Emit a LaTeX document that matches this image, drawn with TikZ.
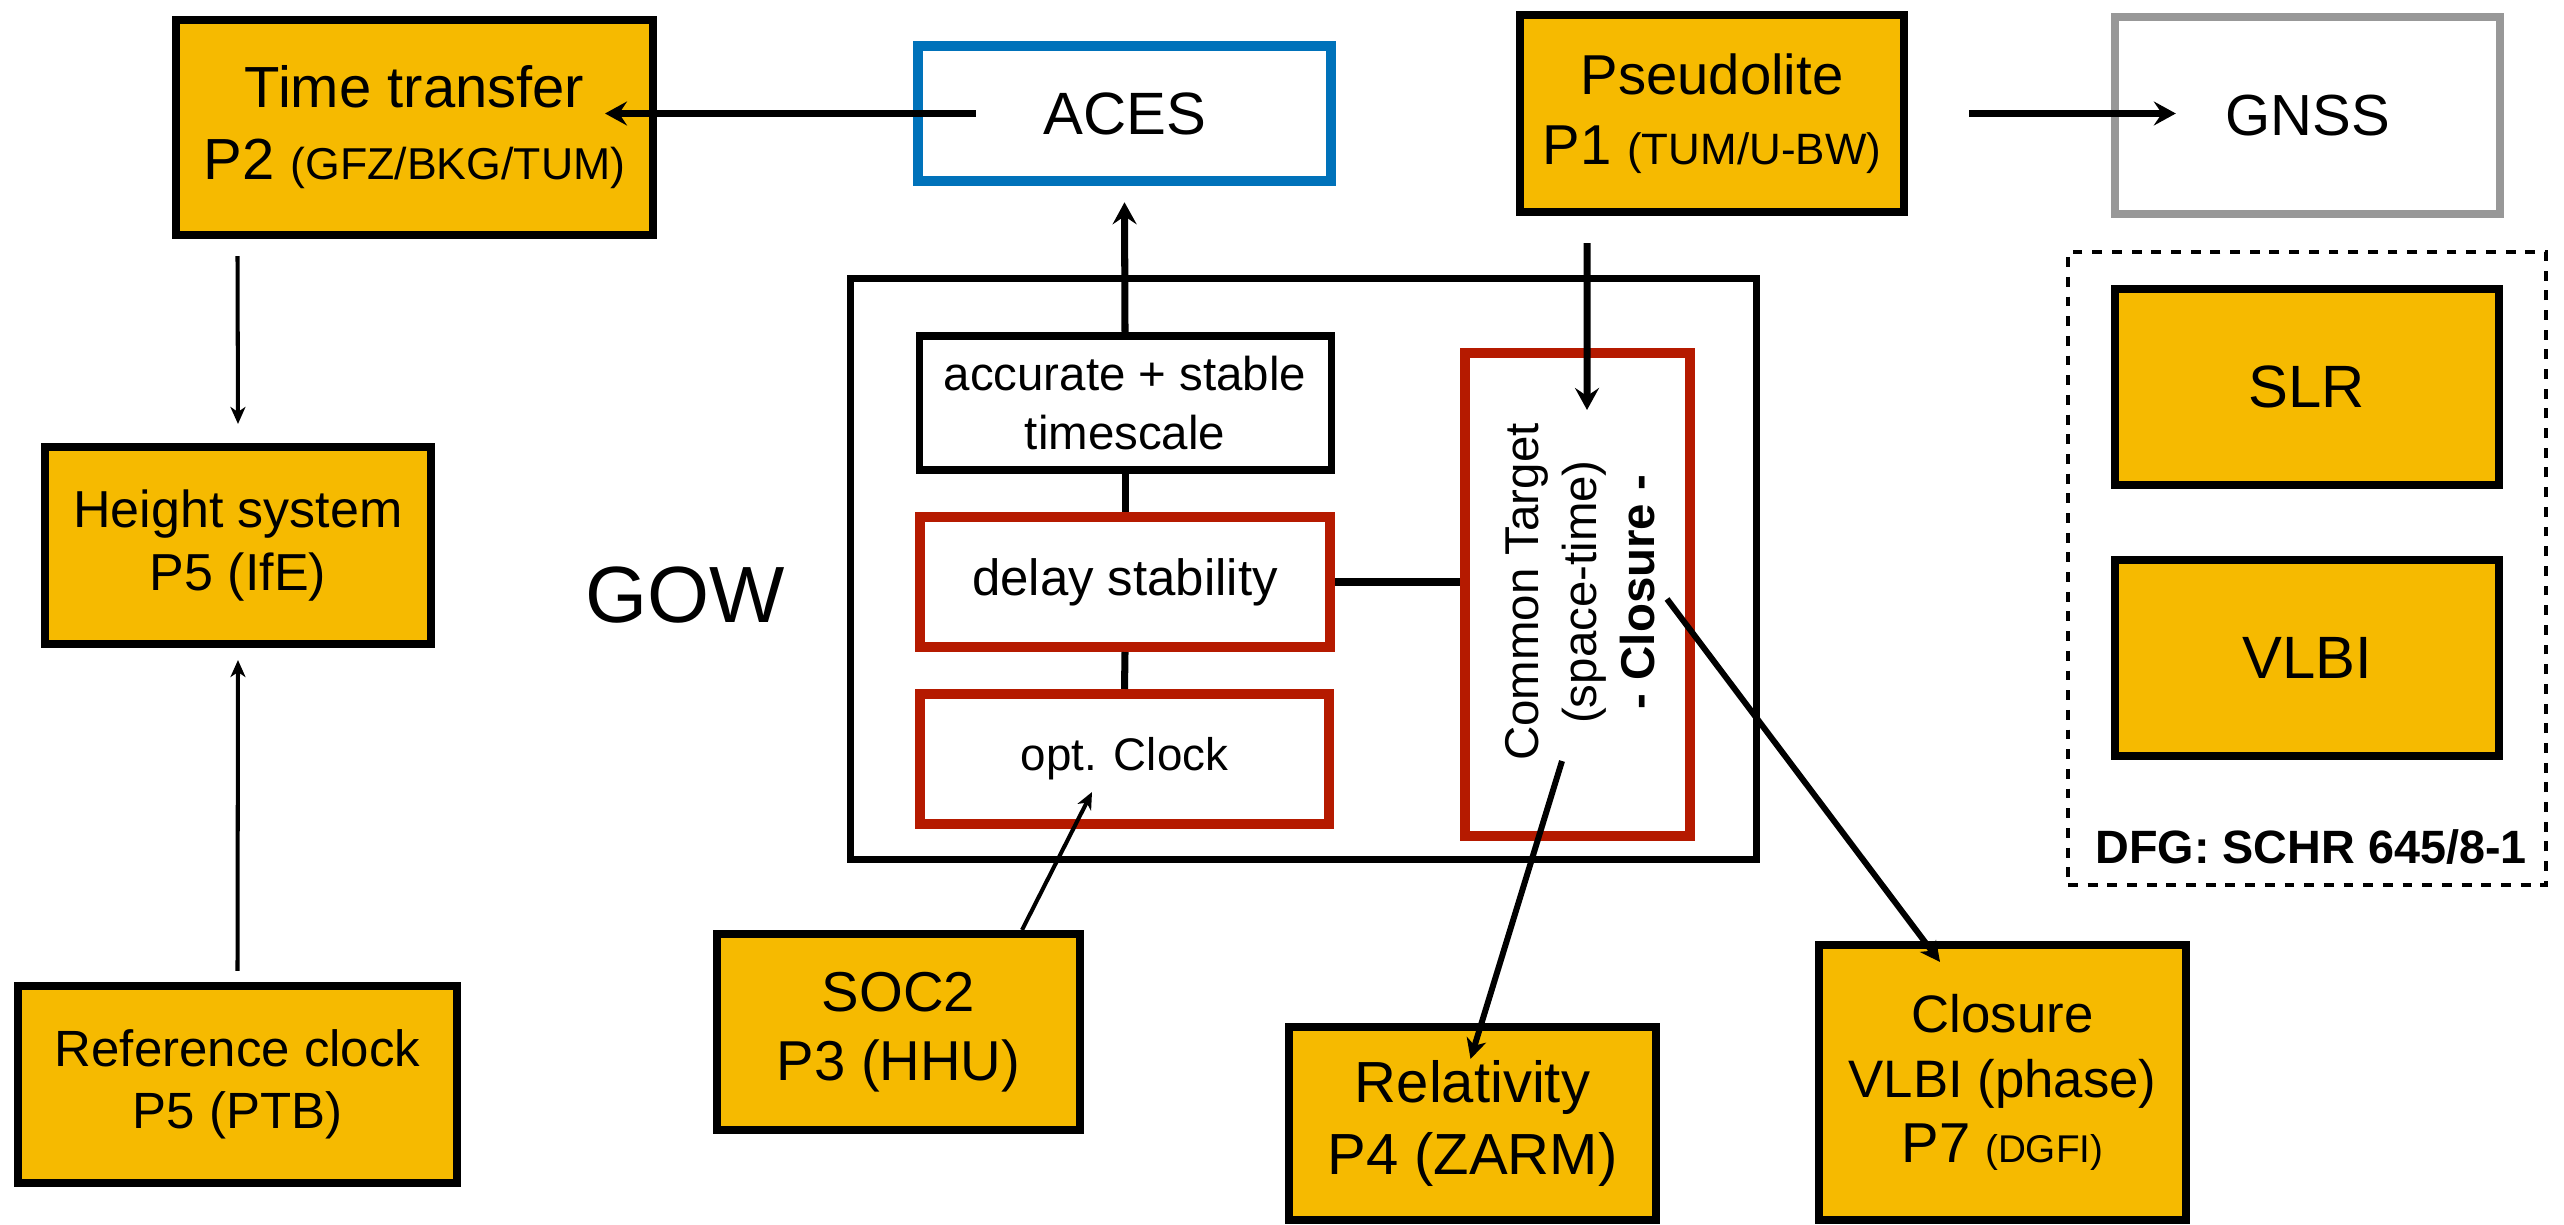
\documentclass[tikz,border=0pt]{standalone}
\usepackage{fontspec}
\setmainfont{Liberation Sans}
\usepackage{tikz}
\usetikzlibrary{arrows.meta,calc}
\definecolor{projyellow}{HTML}{F6BA00}
\definecolor{gowred}{HTML}{B51A00}
\definecolor{acesblue}{HTML}{0072BA}
\definecolor{gnssgray}{HTML}{989898}
\tikzset{project/.style={rectangle,draw=black,fill=projyellow,line width=2.3pt,
 inner sep=2pt,align=center,text=black},
 extbox/.style={rectangle,fill=white,line width=3pt,inner sep=2pt,align=center,
 text=black,font=\fontsize{17}{20}\selectfont},
 gowbox/.style={rectangle,draw=black,line width=2pt},
 timebox/.style={rectangle,draw=black,line width=2pt,align=center,inner sep=2pt,
 font=\fontsize{13.5}{17}\selectfont},
 redbox/.style={rectangle,draw=gowred,line width=2.85pt,align=center,inner sep=2pt},
 dfgframe/.style={rectangle,draw=black,line width=1.3pt,dash pattern=on 2.8pt off 2.8pt},
 link/.style={draw=black,line width=2pt},
 arrowlink/.style={link,-{Stealth[length=2.2mm,width=2.4mm,inset=0.8mm]}},
 slantlink/.style={draw=black,line width=1.7pt,-{Stealth[length=2mm,width=2mm,inset=0.6mm]}},
 thinlink/.style={draw=black,line width=1.15pt,-{Stealth[length=1.7mm,width=1.5mm,inset=0.5mm]}}}

\begin{document}
\begin{tikzpicture}[x=1cm,y=1cm]
 \useasboundingbox (0,0) rectangle (25.64,-12.24);
 % left column
 \node[project,minimum width=4.77cm,minimum height=2.15cm,font=\fontsize{16.5}{20.5}\selectfont]
  (tt) at (4.145,-1.275) {Time transfer\\P2 {\fontsize{12.7}{15}\selectfont(GFZ/BKG/TUM)}};
 \node[project,minimum width=3.86cm,minimum height=1.97cm,font=\fontsize{14.8}{17.8}\selectfont]
  (height) at (2.38,-5.455) {Height system\\P5 (IfE)};
 \node[project,minimum width=4.39cm,minimum height=1.97cm,font=\fontsize{14.5}{17.5}\selectfont]
  (refclk) at (2.375,-10.845) {Reference clock\\P5 (PTB)};
 % top row
 \node[extbox,draw=acesblue,minimum width=4.13cm,minimum height=1.35cm] (aces) at (11.245,-1.135) {ACES};
 \node[project,minimum width=3.84cm,minimum height=1.97cm,font=\fontsize{16}{20}\selectfont]
  (pseudo) at (17.12,-1.135) {Pseudolite\\P1 {\fontsize{12.5}{15}\selectfont(TUM/U-BW)}};
 \node[extbox,draw=gnssgray,line width=2.4pt,minimum width=3.85cm,minimum height=1.97cm,
  font=\fontsize{16.5}{20}\selectfont] (gnss) at (23.075,-1.155) {GNSS};
 % GOW block
 \node[font=\fontsize{22.7}{27}\selectfont] (gowlabel) at (6.85,-5.955) {GOW};
 \node[gowbox,minimum width=9.06cm,minimum height=5.81cm] (gow) at (13.035,-5.69) {};
 \node[timebox,minimum width=4.12cm,minimum height=1.34cm] (acc) at (11.25,-4.03) {accurate + stable\\timescale};
 \node[redbox,minimum width=4.10cm,minimum height=1.30cm,font=\fontsize{14.5}{17}\selectfont]
  (delay) at (11.25,-5.82) {delay stability};
 \node[redbox,minimum width=4.09cm,minimum height=1.30cm,font=\fontsize{13}{16}\selectfont]
  (clock) at (11.245,-7.59) {opt. Clock};
 \node[redbox,minimum width=2.25cm,minimum height=4.83cm] (target) at (15.775,-5.945) {};
 \node[rotate=90,align=center,font=\fontsize{13.5}{16.5}\selectfont] (targettext) at (15.80,-5.92)
  {Common Target\\(space-time)\\\textbf{- Closure -}};
 % bottom row
 \node[project,minimum width=3.63cm,minimum height=1.96cm,font=\fontsize{16}{19.5}\selectfont]
  (soc) at (8.985,-10.32) {SOC2\\P3 (HHU)};
 \node[project,minimum width=3.67cm,minimum height=1.93cm,font=\fontsize{16.5}{20.5}\selectfont]
  (rel) at (14.725,-11.235) {Relativity\\P4 (ZARM)};
 \node[project,minimum width=3.67cm,minimum height=2.75cm,font=\fontsize{15}{18.5}\selectfont]
  (clos) at (20.025,-10.825) {Closure\\VLBI (phase)\\{\fontsize{16}{18.5}\selectfont P7}
  {\fontsize{11}{13}\selectfont(DGFI)}};
 % DFG group
 \node[dfgframe,minimum width=4.78cm,minimum height=6.33cm] (dfg) at (23.07,-5.685) {};
 \node[project,minimum width=3.84cm,minimum height=1.96cm,font=\fontsize{17}{20}\selectfont]
  (slr) at (23.07,-3.87) {SLR};
 \node[project,minimum width=3.84cm,minimum height=1.96cm,font=\fontsize{17}{20}\selectfont]
  (vlbi) at (23.07,-6.58) {VLBI};
 \node[font=\fontsize{13.3}{16}\selectfont\bfseries] (dfglabel) at (23.11,-8.47) {DFG: SCHR 645/8-1};
 % connections
 \draw[arrowlink] ($(aces.west)+(0.63,0)$) -- ($(aces.west -| tt.east)+(-0.52,0)$);
 \draw[arrowlink] ($(pseudo.east)+(0.61,0)$) -- ($(pseudo.east -| gnss.west)+(0.65,0)$);
 \draw[arrowlink] (acc.north) -- ($(aces.south)+(0,-0.16)$);
 \draw[arrowlink] ($(pseudo.south)+(-1.25,-0.27)$) -- ($(target.north)+(0.095,-0.62)$);
 \draw[link] (acc.south) -- (delay.north);
 \draw[link] (delay.south) -- (clock.north);
 \draw[link] (delay.east) -- (delay.east -| target.west);
 \draw[thinlink] ($(soc.north)+(1.235,0)$) -- ($(clock.south)+(-0.325,0.37)$);
 \draw[slantlink] ($(target.center)+(-0.155,-1.665)$) -- ($(rel.north)+(-0.02,-0.36)$);
 \draw[slantlink] ($(target.center)+(0.895,-0.045)$) -- ($(clos.north)+(-0.625,-0.21)$);
 \draw[thinlink] ($(tt.south)+(-1.77,-0.17)$) -- ($(height.north)+(0,0.19)$);
 \draw[thinlink] ($(refclk.north)+(0,0.11)$) -- ($(height.south)+(0,-0.12)$);
\end{tikzpicture}
\end{document}
